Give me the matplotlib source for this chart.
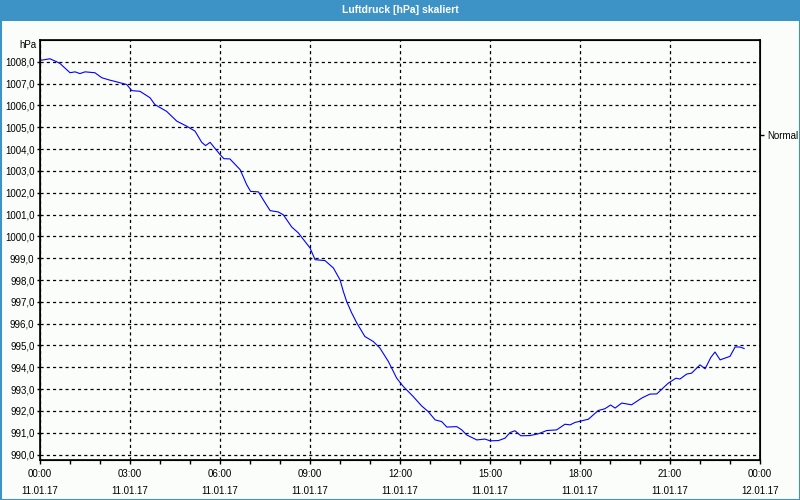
import matplotlib
matplotlib.use("Agg")
import matplotlib.pyplot as plt
from matplotlib.patches import Rectangle
from matplotlib.ticker import MultipleLocator

plt.rcParams["font.family"] = ["Liberation Sans", "DejaVu Sans"]

# --- data ---------------------------------------------------------------
hours = [0.03, 0.33, 0.56, 0.67, 1.0, 1.17, 1.33, 1.5, 1.83, 2.06, 2.33, 2.56, 2.89,
         3.06, 3.33, 3.67, 3.83, 4.22, 4.56, 4.89, 5.17, 5.39, 5.52, 5.67, 6.0,
         6.13, 6.33, 6.67, 6.89, 7.02, 7.28, 7.44, 7.67, 7.94, 8.11, 8.39, 8.61,
         9.0, 9.17, 9.5, 9.78, 10.0, 10.11, 10.22, 10.39, 10.56, 10.83, 11.11,
         11.33, 11.61, 11.89, 12.11, 12.44, 12.72, 12.94, 13.17, 13.39, 13.56,
         13.89, 14.06, 14.22, 14.56, 14.83, 15.0, 15.28, 15.5, 15.67, 15.83,
         16.03, 16.33, 16.61, 16.89, 17.22, 17.5, 17.67, 17.83, 18.28, 18.61,
         18.83, 19.02, 19.17, 19.39, 19.72, 20.06, 20.33, 20.56, 20.94, 21.2,
         21.33, 21.56, 21.72, 22.0, 22.17, 22.36, 22.5, 22.67, 23.0, 23.17,
         23.33, 23.47]
pressure = [1008.07, 1008.14, 1008.0, 1007.92, 1007.50, 1007.54, 1007.46, 1007.54,
            1007.50, 1007.27, 1007.16, 1007.08, 1006.96, 1006.68, 1006.65, 1006.35,
            1006.04, 1005.73, 1005.28, 1005.05, 1004.82, 1004.31, 1004.16, 1004.31,
            1003.75, 1003.56, 1003.55, 1003.06, 1002.37, 1002.06, 1002.04, 1001.68,
            1001.18, 1001.12, 1000.99, 1000.43, 1000.16, 999.47, 998.93, 998.89,
            998.55, 998.01, 997.48, 997.02, 996.49, 996.03, 995.41, 995.18, 994.88,
            994.27, 993.50, 993.12, 992.66, 992.23, 991.97, 991.59, 991.51, 991.26,
            991.28, 991.13, 990.90, 990.67, 990.71, 990.63, 990.64, 990.75, 991.01,
            991.09, 990.86, 990.87, 990.95, 991.10, 991.13, 991.39, 991.36, 991.47,
            991.62, 992.02, 992.10, 992.27, 992.13, 992.36, 992.28, 992.59, 992.77,
            992.78, 993.27, 993.50, 993.46, 993.69, 993.73, 994.11, 993.93, 994.45,
            994.70, 994.34, 994.50, 994.93, 994.93, 994.86]

x_ticks = [0, 3, 6, 9, 12, 15, 18, 21, 24]
x_labels = ["00:00\n11.01.17", "03:00\n11.01.17", "06:00\n11.01.17",
            "09:00\n11.01.17", "12:00\n11.01.17", "15:00\n11.01.17",
            "18:00\n11.01.17", "21:00\n11.01.17", "00:00\n12.01.17"]
y_ticks = list(range(990, 1009))
y_labels = [f"{v},0" for v in y_ticks]
normal_level = 1004.63
title = "Luftdruck [hPa] skaliert"

# --- figure -------------------------------------------------------------
W, H = 800, 500
bg = "#fbfdfb"
bar = "#3d93c5"
fs = 7
fig = plt.figure(figsize=(W / 100, H / 100), dpi=100, facecolor=bg)

# title bar and frame
fig.patches.append(Rectangle((0, 1 - 21 / H), 1, 21 / H, transform=fig.transFigure,
                             facecolor=bar, edgecolor="none", zorder=0))
fig.patches.append(Rectangle((0.5 / W, 0.5 / H), 1 - 1 / W, 1 - 1 / H,
                             transform=fig.transFigure, facecolor="none",
                             edgecolor=bar, linewidth=1.5, zorder=0))
fig.text(0.5, 1 - 10 / H, title, color="white", fontsize=7.5, fontweight="bold",
         ha="center", va="center")

ax = fig.add_axes([40 / W, 40 / H, 720 / W, 420 / H])
ax.set_facecolor(bg)
ax.plot(hours, pressure, color="#0000ff", linewidth=0.8, zorder=3)

ax.set_xlim(0, 24)
ax.set_ylim(989.75, 1009.0)

ax.set_xticks(x_ticks)
ax.set_xticklabels(x_labels, fontsize=fs, linespacing=1.9)
ax.xaxis.set_minor_locator(MultipleLocator(1))
ax.set_yticks(y_ticks)
ax.set_yticklabels(y_labels, fontsize=fs)

ax.tick_params(axis="x", which="major", length=3, width=1, pad=3.5, direction="out")
ax.tick_params(axis="x", which="minor", length=3, width=1, direction="out")
ax.tick_params(axis="y", which="major", length=2, width=1, pad=2, direction="out")

ax.grid(True, which="major", color="black", linestyle=(0, (2.5, 2.5)), linewidth=0.9)
for s in ax.spines.values():
    s.set_linewidth(1.2)
    s.set_color("black")

# right "Normal" marker
axr = ax.twinx()
axr.set_ylim(ax.get_ylim())
axr.set_yticks([normal_level])
axr.set_yticklabels(["Normal"], fontsize=fs)
axr.tick_params(axis="y", length=3, width=1, pad=2)

fig.text(37 / W, 1 - 45 / H, "hPa", fontsize=fs, ha="right", va="center")

fig.savefig("out.png", dpi=100, facecolor=bg)
